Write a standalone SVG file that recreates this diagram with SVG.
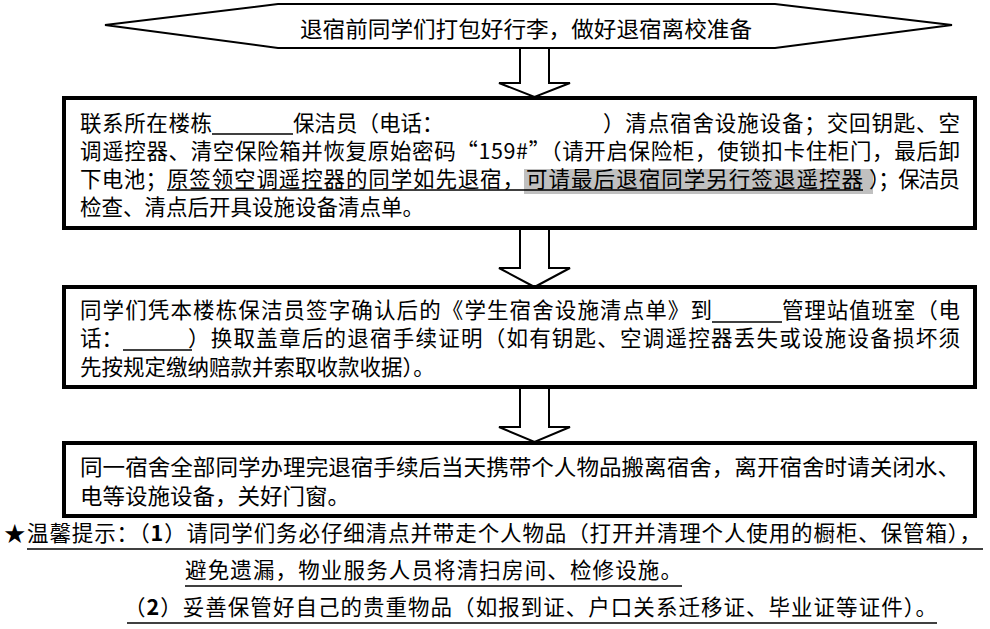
<svg xmlns="http://www.w3.org/2000/svg" width="990" height="629" viewBox="0 0 990 629">
<style>
.t{font-family:"Noto Sans CJK SC","Liberation Sans",sans-serif;font-size:21.5px;fill:#000}
.h{font-family:"Noto Sans CJK SC","Liberation Sans",sans-serif;font-size:22px;fill:#000}
.box{fill:#fff;stroke:#000;stroke-width:4}
.hex{fill:#fff;stroke:#000;stroke-width:2}
.arr{fill:#fff;stroke:#000;stroke-width:2;stroke-linejoin:miter}
.ul{stroke:#000;stroke-width:1.3}
</style>
<rect width="990" height="629" fill="#fff"/>
<g id="start">
<polygon class="hex" points="105,25 278,4 775,4 952,25 775,48 278,48"/>
<text class="h" x="300" y="37" font-size="23" textLength="452" lengthAdjust="spacingAndGlyphs">退宿前同学们打包好行李，做好退宿离校准备</text>
</g>
<g id="connectors">
<polygon class="arr" points="520,48 549,48 549,83 570,83 534.5,97 499,83 520,83"/>
<polygon class="arr" points="520,228 549,228 549,268 570,268 534.5,287 499,268 520,268"/>
<polygon class="arr" points="520,387 549,387 549,427 570,427 534.5,442 499,427 520,427"/>
</g>
<g id="step1">
<rect class="box" x="64" y="98" width="911" height="130"/>
<text class="t" x="80" y="131" textLength="132">联系所在楼栋</text>
<line class="ul" x1="212" y1="134" x2="293" y2="134"/>
<text class="t" x="293" y="131">保洁员（电话：</text>
<text class="t" x="603" y="131" textLength="357">）清点宿舍设施设备；交回钥匙、空</text>
<text class="t" x="80" y="159" textLength="880">调遥控器、清空保险箱并恢复原始密码“159#”（请开启保险柜，使锁扣卡住柜门，最后卸</text>
<rect x="524" y="169" width="349" height="25" fill="#c0c0c0"/>
<text class="t" x="80" y="187" textLength="87">下电池；</text>
<text class="t" x="167" y="187" textLength="357">原签领空调遥控器的同学如先退宿，</text>
<text class="t" x="526" y="187" textLength="337">可请最后退宿同学另行签退遥控器</text>
<text class="t" x="869" y="187" textLength="91">）；保洁员</text>
<line class="ul" x1="167" y1="190" x2="863" y2="190"/>
<text class="t" x="80" y="215">检查、清点后开具设施设备清点单。</text>
</g>
<g id="step2">
<rect class="box" x="64" y="287" width="911" height="100"/>
<text class="t" x="80" y="318" textLength="632">同学们凭本楼栋保洁员签字确认后的《学生宿舍设施清点单》到</text>
<line class="ul" x1="712" y1="322" x2="782" y2="322"/>
<text class="t" x="782" y="318" textLength="178">管理站值班室（电</text>
<text class="t" x="80" y="346">话：</text>
<line class="ul" x1="123" y1="350" x2="192" y2="350"/>
<text class="t" x="188" y="346" textLength="772">）换取盖章后的退宿手续证明（如有钥匙、空调遥控器丢失或设施设备损坏须</text>
<text class="t" x="80" y="375">先按规定缴纳赔款并索取收款收据）。</text>
</g>
<g id="step3">
<rect class="box" x="64" y="443" width="911" height="73"/>
<text class="h" x="80" y="475" textLength="880" lengthAdjust="spacingAndGlyphs">同一宿舍全部同学办理完退宿手续后当天携带个人物品搬离宿舍，离开宿舍时请关闭水、</text>
<text class="h" x="80" y="504" textLength="270" lengthAdjust="spacingAndGlyphs">电等设施设备，关好门窗。</text>
</g>
<g id="tips">
<text class="t" x="4" y="541" font-size="20">★</text>
<text class="t" x="27" y="541" textLength="954">温馨提示：（<tspan font-weight="bold">1</tspan>）请同学们务必仔细清点并带走个人物品（打开并清理个人使用的橱柜、保管箱），</text>
<line class="ul" x1="27" y1="549" x2="983" y2="549"/>
<text class="t" x="185" y="578" textLength="497">避免遗漏，物业服务人员将清扫房间、检修设施。</text>
<line class="ul" x1="185" y1="586" x2="682" y2="586"/>
<text class="t" x="124" y="615" textLength="813">（<tspan font-weight="bold">2</tspan>）妥善保管好自己的贵重物品（如报到证、户口关系迁移证、毕业证等证件）。</text>
<line class="ul" x1="127" y1="623" x2="937" y2="623"/>
</g>
</svg>
